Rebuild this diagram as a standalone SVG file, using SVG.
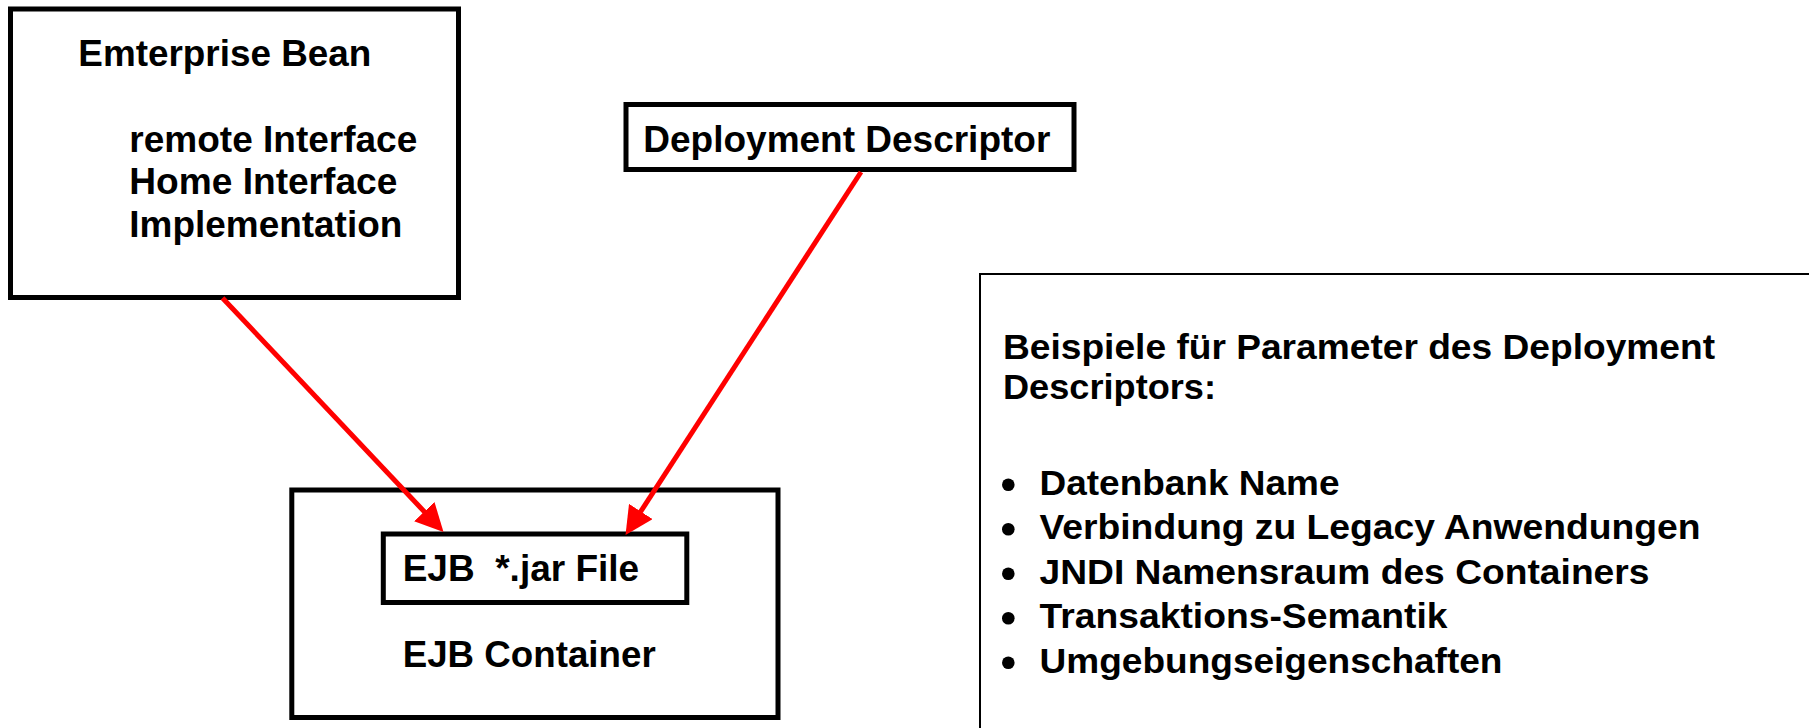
<svg xmlns="http://www.w3.org/2000/svg" width="1809" height="728" viewBox="0 0 1809 728">
<style>
.box{fill:#fff;stroke:#000;stroke-width:5}
.panel{fill:#fff;stroke:#000;stroke-width:2}
.t{font-family:"Liberation Sans",Arial,sans-serif;font-weight:bold;font-size:37px;fill:#000}
.s{font-family:"Liberation Sans",Arial,sans-serif;font-weight:bold;font-size:34.5px;fill:#000}
.dot{fill:#000}
.conn{stroke:#FF0000;stroke-width:5;fill:none;marker-end:url(#ah)}
</style>
<defs>
<marker id="ah" viewBox="0 0 10 10" refX="2.14" refY="5" markerWidth="28" markerHeight="28" markerUnits="userSpaceOnUse" orient="auto">
<path d="M0,0 L10,5 L0,10 z" fill="#FF0000"/>
</marker>
</defs>
<rect width="1809" height="728" fill="#fff"/>
<g id="enterprise-bean">
<rect class="box" x="10.5" y="9" width="448" height="288.5"/>
<text class="t" x="78.3" y="65.7" textLength="293" lengthAdjust="spacingAndGlyphs">Emterprise Bean</text>
<text class="t" x="129.3" y="151.7" textLength="288" lengthAdjust="spacingAndGlyphs">remote Interface</text>
<text class="t" x="129.3" y="194.3" textLength="268" lengthAdjust="spacingAndGlyphs">Home Interface</text>
<text class="t" x="129.3" y="237" textLength="273" lengthAdjust="spacingAndGlyphs">Implementation</text>
</g>
<g id="deployment-descriptor">
<rect class="box" x="626" y="104.5" width="448" height="65"/>
<text class="t" x="643.3" y="152.3" textLength="407" lengthAdjust="spacingAndGlyphs">Deployment Descriptor</text>
</g>
<g id="ejb-container">
<rect class="box" x="291.8" y="490" width="486.2" height="227.5"/>
<text class="t" x="402.7" y="666.7" textLength="253" lengthAdjust="spacingAndGlyphs">EJB Container</text>
</g>
<g id="ejb-jar-file">
<rect class="box" x="383.3" y="534" width="303.5" height="68.5"/>
<text class="t" x="402.7" y="580.7" textLength="236.5" lengthAdjust="spacingAndGlyphs" xml:space="preserve">EJB  *.jar File</text>
</g>
<g id="parameter-panel">
<rect class="panel" x="980" y="274" width="900" height="500"/>
<text class="s" x="1003" y="359.3" textLength="712" lengthAdjust="spacingAndGlyphs">Beispiele für Parameter des Deployment</text>
<text class="s" x="1003" y="399" textLength="213" lengthAdjust="spacingAndGlyphs">Descriptors:</text>
<circle class="dot" cx="1008.3" cy="484.7" r="6.3"/>
<text class="s" x="1039.5" y="494.5" textLength="300" lengthAdjust="spacingAndGlyphs">Datenbank Name</text>
<circle class="dot" cx="1008.3" cy="529.2" r="6.3"/>
<text class="s" x="1039.5" y="539" textLength="661" lengthAdjust="spacingAndGlyphs">Verbindung zu Legacy Anwendungen</text>
<circle class="dot" cx="1008.3" cy="573.7" r="6.3"/>
<text class="s" x="1039.5" y="583.5" textLength="610" lengthAdjust="spacingAndGlyphs">JNDI Namensraum des Containers</text>
<circle class="dot" cx="1008.3" cy="618.2" r="6.3"/>
<text class="s" x="1039.5" y="628" textLength="408" lengthAdjust="spacingAndGlyphs">Transaktions-Semantik</text>
<circle class="dot" cx="1008.3" cy="662.7" r="6.3"/>
<text class="s" x="1039.5" y="672.5" textLength="463" lengthAdjust="spacingAndGlyphs">Umgebungseigenschaften</text>
</g>
<g id="connectors">
<line class="conn" x1="222.5" y1="298" x2="428.4" y2="516"/>
<line class="conn" x1="861" y1="172" x2="637.5" y2="516.5"/>
</g>
</svg>
